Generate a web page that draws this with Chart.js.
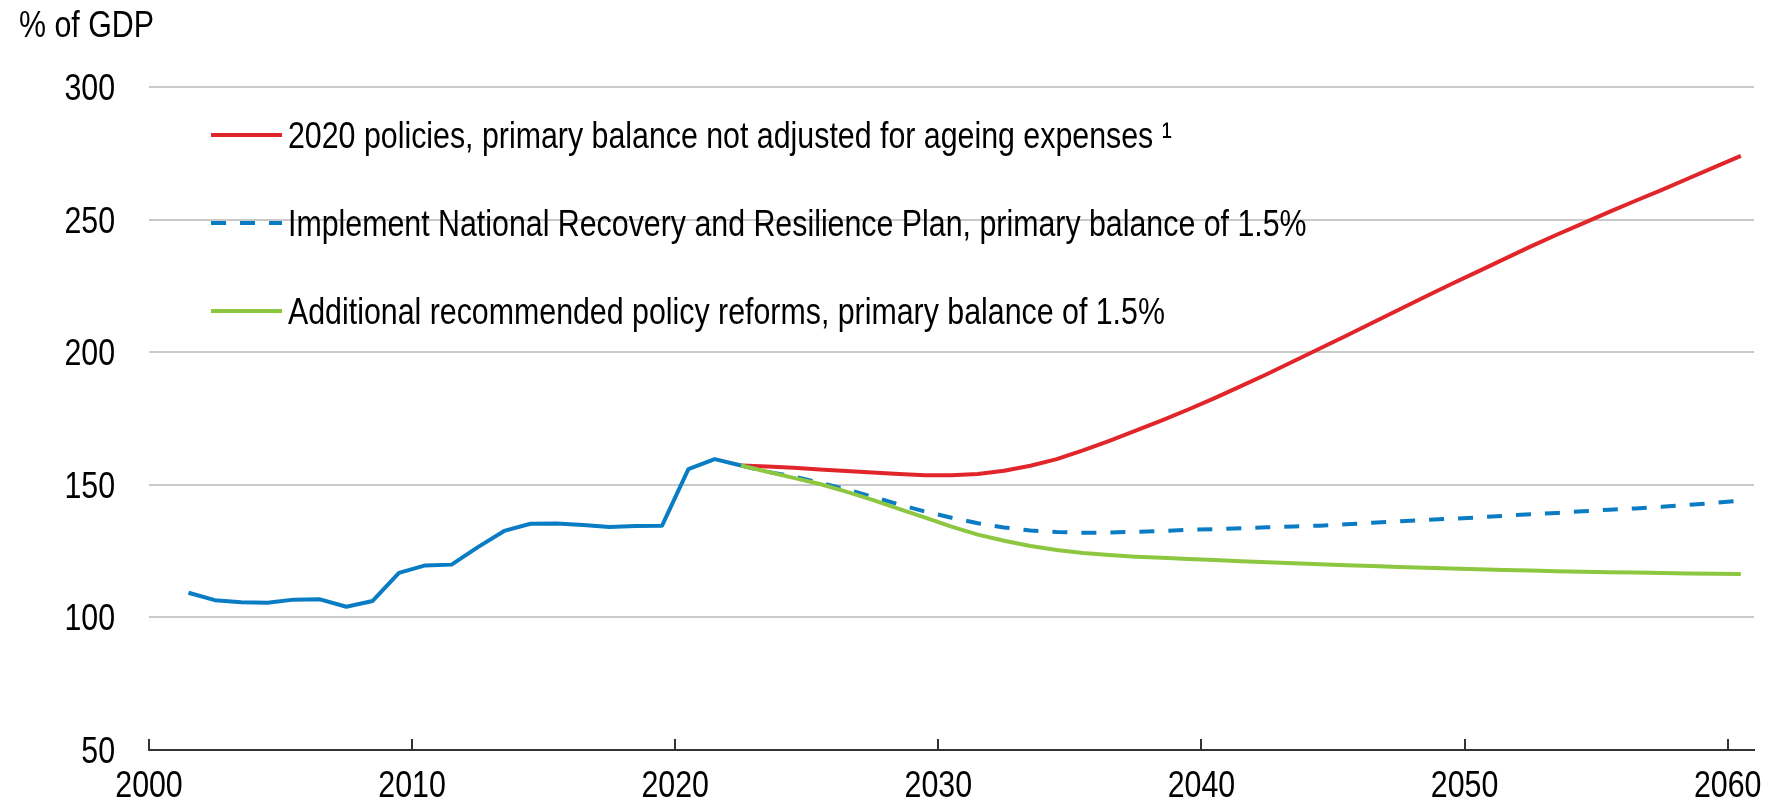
<!DOCTYPE html>
<html>
<head>
<meta charset="utf-8">
<title>Gross government debt scenarios</title>
<script src="https://cdn.jsdelivr.net/npm/chart.js@4.4.1/dist/chart.umd.min.js"></script>
<style>
    html, body { margin: 0; padding: 0; background: #fff; }
    canvas { display: block; }
</style>
</head>
<body>
<canvas id="myChart" width="1781" height="801"></canvas>
<script>
const FONT = "'Liberation Sans', Arial, sans-serif";
const FONT_SIZE = 37;
const NARROW = 0.82; // squeeze to look like Arial Narrow

// historical debt, % of GDP
const histYears = [2001, 2002, 2003, 2004, 2005, 2006, 2007, 2008, 2009, 2010, 2011,
    2012, 2013, 2014, 2015, 2016, 2017, 2018, 2019, 2020, 2021, 2022];
const histDebt = [109.3, 106.5, 105.7, 105.5, 106.7, 106.8, 104.0, 106.2, 116.8, 119.6, 119.9,
    126.5, 132.6, 135.3, 135.4, 134.8, 134.1, 134.5, 134.6, 155.9, 159.7, 157.3];

// projections
const projYears = [2022, 2023, 2024, 2025, 2026, 2027, 2028, 2029, 2030, 2031, 2032, 2033, 2034,
    2035, 2036, 2037, 2038, 2039, 2040, 2041, 2042, 2043, 2044, 2045, 2046, 2047, 2048,
    2049, 2050, 2051, 2052, 2053, 2054, 2055, 2056, 2057, 2058, 2059, 2060];
const ageingDebt = [157.3, 156.9, 156.4, 155.8, 155.2, 154.6, 154.1, 153.6, 153.6, 154.1, 155.3,
    157.2, 159.7, 163.0, 166.6, 170.4, 174.3, 178.4, 182.7, 187.2, 191.8, 196.6, 201.4, 206.2,
    211.1, 216.0, 220.9, 225.7, 230.4, 235.1, 239.8, 244.3, 248.6, 252.9, 257.1, 261.2, 265.5,
    269.8, 274.0];
const nrrpDebt = [157.3, 154.9, 153.1, 150.8, 148.3, 145.5, 142.6, 139.9, 137.6, 135.5, 133.9,
    132.8, 132.2, 131.9, 132.0, 132.3, 132.6, 133.0, 133.3, 133.6, 134.0, 134.3, 134.6, 135.1,
    135.7, 136.2, 136.7, 137.2, 137.7, 138.3, 138.9, 139.4, 140.0, 140.6, 141.1, 141.7, 142.4,
    143.2, 144.0];
const reformDebt = [157.3, 154.9, 152.6, 150.3, 147.4, 144.3, 140.9, 137.6, 134.2, 131.2, 128.9,
    126.9, 125.4, 124.3, 123.5, 122.9, 122.5, 122.0, 121.6, 121.2, 120.8, 120.4, 120.0, 119.7,
    119.4, 119.0, 118.7, 118.4, 118.2, 117.9, 117.7, 117.4, 117.2, 117.0, 116.9, 116.7, 116.6,
    116.5, 116.4];

const xTicks = [2000, 2010, 2020, 2030, 2040, 2050, 2060];
const yTicks = [50, 100, 150, 200, 250, 300];

const legendLabels = [
    '2020 policies, primary balance not adjusted for ageing expenses \u00B9',
    'Implement National Recovery and Resilience Plan, primary balance of 1.5%',
    'Additional recommended policy reforms, primary balance of 1.5%',
];
const yTitle = '% of GDP';

const RED = '#e0262b';
const BLUE = '#0a7cc3';
const GREEN = '#8dc641';

// annual values sit in the middle of each year on the axis
function toPoints(years, values) {
    return years.map((yr, i) => ({ x: yr + 0.5, y: values[i] }));
}

function narrowText(ctx, text, x, y, align) {
    ctx.save();
    ctx.translate(x, y);
    ctx.scale(NARROW, 1);
    ctx.textAlign = align;
    ctx.fillText(text, 0, 0);
    ctx.restore();
}

const extrasPlugin = {
    id: 'extras',
    afterDraw(chart) {
        const ctx = chart.ctx;
        const area = chart.chartArea;
        const xScale = chart.scales.x;
        const yScale = chart.scales.y;
        ctx.save();

        // tick marks pointing up from the axis
        ctx.strokeStyle = '#333';
        ctx.lineWidth = 2;
        for (const t of xScale.ticks) {
            const px = Math.round(xScale.getPixelForValue(t.value));
            ctx.beginPath();
            ctx.moveTo(px, area.bottom);
            ctx.lineTo(px, area.bottom - 11);
            ctx.stroke();
        }

        ctx.fillStyle = '#000';
        ctx.font = `${FONT_SIZE}px ${FONT}`;
        ctx.textBaseline = 'alphabetic';

        // tick labels
        for (const t of xScale.ticks) {
            narrowText(ctx, String(t.value), xScale.getPixelForValue(t.value), area.bottom + 47, 'center');
        }
        for (const t of yScale.ticks) {
            narrowText(ctx, String(t.value), area.left - 34, yScale.getPixelForValue(t.value) + 13, 'right');
        }

        // axis title
        narrowText(ctx, yTitle, 19, 37, 'left');

        // legend
        const legendSets = [1, 2, 3];
        legendSets.forEach((dsIndex, i) => {
            const ds = chart.data.datasets[dsIndex];
            const y = area.top + 48 + i * 88;
            const x0 = area.left + 62;
            ctx.beginPath();
            ctx.strokeStyle = ds.borderColor;
            ctx.lineWidth = ds.borderWidth;
            ctx.setLineDash(ds.borderDash || []);
            ctx.lineCap = 'butt';
            ctx.moveTo(x0, y);
            ctx.lineTo(x0 + 71, y);
            ctx.stroke();
            ctx.setLineDash([]);
            narrowText(ctx, legendLabels[i], x0 + 77, y + 13, 'left');
        });
        ctx.restore();
    },
};

const chartConfig = {
    type: 'line',
    data: {
        datasets: [
            {
                label: 'Historical',
                data: toPoints(histYears, histDebt),
                borderColor: BLUE,
                borderWidth: 4,
                order: 3,
            },
            {
                label: legendLabels[0],
                data: toPoints(projYears, ageingDebt),
                borderColor: RED,
                borderWidth: 4,
                order: 2,
            },
            {
                label: legendLabels[1],
                data: toPoints(projYears, nrrpDebt),
                borderColor: BLUE,
                borderWidth: 4,
                borderDash: [15, 14],
                order: 1,
            },
            {
                label: legendLabels[2],
                data: toPoints(projYears, reformDebt),
                borderColor: GREEN,
                borderWidth: 4,
                order: 0,
            },
        ],
    },
    options: {
        responsive: false,
        animation: false,
        parsing: false,
        elements: {
            point: { radius: 0 },
            line: { tension: 0, fill: false, borderJoinStyle: 'round' },
        },
        layout: { padding: { top: 87, right: 27, left: 0, bottom: 0 } },
        plugins: {
            legend: { display: false },
            tooltip: { enabled: false },
            title: { display: false },
        },
        scales: {
            x: {
                type: 'linear',
                min: 2000,
                max: 2061,
                afterBuildTicks: (scale) => { scale.ticks = xTicks.map((v) => ({ value: v })); },
                afterFit: (scale) => { scale.height = 51; },
                ticks: { display: false },
                grid: { display: false },
                border: { display: true, color: '#333', width: 2 },
            },
            y: {
                min: 50,
                max: 300,
                afterBuildTicks: (scale) => { scale.ticks = yTicks.map((v) => ({ value: v })); },
                afterFit: (scale) => { scale.width = 149; },
                ticks: { display: false },
                grid: {
                    drawTicks: false,
                    lineWidth: 2,
                    color: (c) => (c.tick && c.tick.value === 50 ? 'rgba(0,0,0,0)' : '#c9c9c9'),
                },
                border: { display: false },
            },
        },
    },
    plugins: [extrasPlugin],
};

new Chart(document.getElementById('myChart'), chartConfig);
</script>
</body>
</html>
